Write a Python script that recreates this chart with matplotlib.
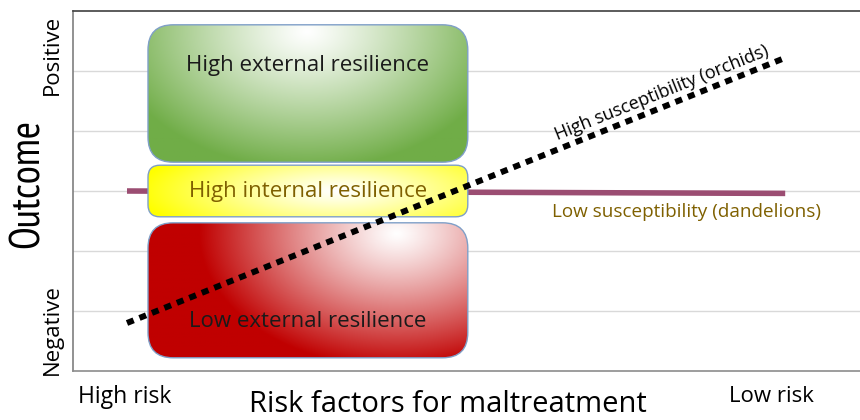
import numpy as np
import matplotlib
matplotlib.use("Agg")
import matplotlib.pyplot as plt
from matplotlib.patches import FancyBboxPatch

plt.rcParams["font.family"] = ["Open Sans", "DejaVu Sans"]

# ---- data (x: risk, 0 = high risk ... ; y: outcome, 0 = negative ... 6 = positive)
dandelion_x = [0.9, 11.87]
dandelion_y = [3.0, 2.96]
orchid_x = [0.9, 11.87]
orchid_y = [0.8, 5.22]

box_labels = ["High external resilience", "High internal resilience", "Low external resilience"]
box_bottom = [3.48, 2.57, 0.22]
box_top = [5.77, 3.43, 2.47]
box_left, box_right = 1.25, 6.58
box_edge_colors = ["#70AD47", "#FFFF00", "#C00000"]
box_text_colors = ["#1a1a1a", "#7F6000", "#1a1a1a"]
box_text_y = [5.1, 3.0, 0.82]
box_light_centers = [(3.9, 5.65), (4.4, 3.0), (5.4, 2.3)]
box_round = [0.42, 0.2, 0.42]

fig = plt.figure(figsize=(8.6, 4.2), dpi=100)
ax = fig.add_axes([73 / 860, 49 / 420, 787 / 860, 360 / 420])
ax.set_xlim(0, 787 / 60)
ax.set_ylim(0, 6)

# grid + frame
for yv in range(1, 6):
    ax.axhline(yv, color="#D9D9D9", lw=1.0, zorder=0)
ax.set_xticks([])
ax.set_yticks([])
ax.spines["right"].set_visible(False)
ax.spines["left"].set_color("#7F7F7F")
ax.spines["top"].set_color("#404040")
ax.spines["bottom"].set_color("#8C8C8C")
for s in ("left", "top", "bottom"):
    ax.spines[s].set_linewidth(1.2)


def gradient_box(ax, x0, x1, y0, y1, rnd, edge, light, label, tcolor, ty):
    patch = FancyBboxPatch((x0, y0), x1 - x0, y1 - y0,
                           boxstyle=f"round,pad=0,rounding_size={rnd}",
                           facecolor="none", edgecolor="#7F9FC8", lw=1.0, zorder=3)
    ax.add_patch(patch)
    xs = np.linspace(x0, x1, 300)
    ys = np.linspace(y0, y1, 150)
    X, Y = np.meshgrid(xs, ys)
    cx, cy = light
    d = np.sqrt(((X - cx) / (0.62 * (x1 - x0))) ** 2 + ((Y - cy) / (1.0 * (y1 - y0))) ** 2)
    d = np.clip(d, 0, 1) ** 1.15
    rgb = np.array(matplotlib.colors.to_rgb(edge))
    img = 1 - (1 - rgb)[None, None, :] * d[:, :, None]
    im = ax.imshow(img, extent=(x0, x1, y0, y1), origin="lower",
                   aspect="auto", zorder=2, interpolation="bilinear")
    im.set_clip_path(patch)
    ax.text((x0 + x1) / 2, ty, label, ha="center", va="center",
            fontsize=16, color=tcolor, zorder=5)


for lab, b, t, ec, tc, ty, lc, rr in zip(box_labels, box_bottom, box_top, box_edge_colors,
                                          box_text_colors, box_text_y, box_light_centers, box_round):
    gradient_box(ax, box_left, box_right, b, t, rr, ec, lc, lab, tc, ty)

# low susceptibility line (behind boxes)
ax.plot(dandelion_x, dandelion_y, color="#9B4D72", lw=4, solid_capstyle="butt", zorder=1)
# high susceptibility line (over boxes)
ax.plot(orchid_x, orchid_y, color="black", lw=4.3, linestyle=(0, (1.2, 1.05)),
        dash_capstyle="butt", zorder=6)

ax.text(9.82, 4.63, "High susceptibility (orchids)", rotation=21.9, rotation_mode="anchor",
        ha="center", va="center", fontsize=13, color="black", zorder=6)
ax.text(10.23, 2.65, "Low susceptibility (dandelions)", ha="center", va="center",
        fontsize=13.6, color="#7F6000", zorder=6)

# axis words
fig.text(28 / 860, 1 - 183 / 420, "Outcome", rotation=90, ha="center", va="center",
         fontsize=30, family=["PT Sans Narrow", "DejaVu Sans"])
fig.text(52 / 860, 1 - 55 / 420, "Positive", rotation=90, ha="center", va="center", fontsize=16)
fig.text(52 / 860, 1 - 330 / 420, "Negative", rotation=90, ha="center", va="center", fontsize=16)
fig.text(125 / 860, 1 - 397 / 420, "High risk", ha="center", va="center", fontsize=16.5)
fig.text(771 / 860, 1 - 397 / 420, "Low risk", ha="center", va="center", fontsize=16)
fig.text(448 / 860, 1 - 405 / 420, "Risk factors for maltreatment", ha="center", va="center", fontsize=21)

fig.savefig("out.png", dpi=100)
